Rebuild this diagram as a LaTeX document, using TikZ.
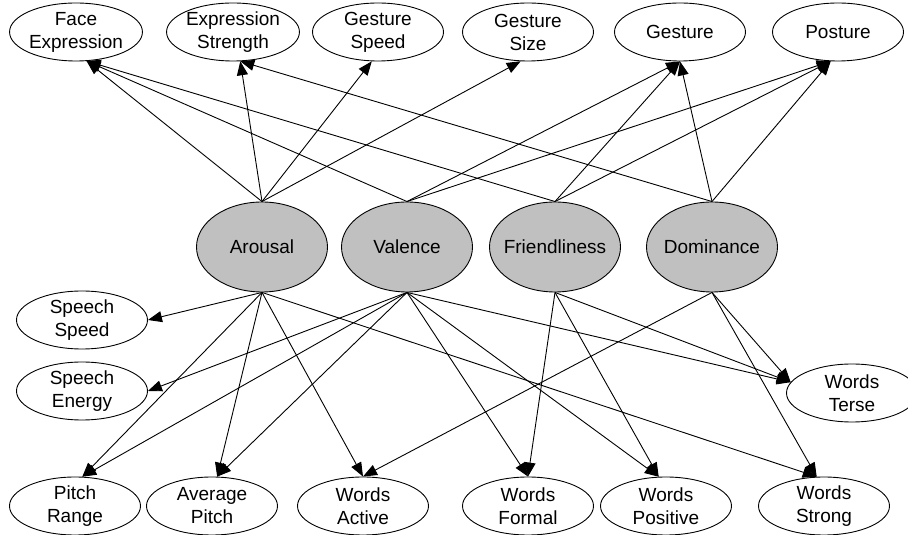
\documentclass[tikz,border=0pt]{standalone}
\usepackage{fontspec}
\setmainfont{Liberation Sans}
\usetikzlibrary{positioning, arrows.meta, shapes.geometric}
\definecolor{silver}{RGB}{192,192,192}
\tikzset{
every edge/.style={draw, ->}, % every edge is directed
>={Triangle[length=14pt, width=11pt]}, % solid arrow heads
x=1pt, y=1pt, % one unit is one pixel of the layout
node distance=150pt, % distance between the centres of two nodes in a row
every node/.style={font=\fontsize{19}{23}\selectfont, align=center},
cue/.style={ellipse, draw, inner sep=0pt, minimum width=131pt, minimum height=58pt}, % observed cues
mood/.style={cue, fill=silver, inner xsep=-6pt, minimum height=90pt}, % hidden states
}
\begin{document}
\begin{tikzpicture}[line width=0.9pt]
\useasboundingbox (0,0) rectangle (908,535);
            % top row
            \node[cue] (face) at (76,503) {Face\\Expression};
            \node[cue, node distance=157pt, right of=face] (strength) {Expression\\Strength};
            \node[cue, node distance=145pt, right of=strength] (gspeed) {Gesture\\Speed};
            \node[cue, right of=gspeed] (gsize) {Gesture\\Size};
            \node[cue, node distance=152pt, right of=gsize] (gesture) {Gesture};
            \node[cue, node distance=158pt, right of=gesture] (posture) {Posture};
            % middle row
            \node[mood] (aro) at (262,288) {Arousal};
            \node[mood, node distance=145pt, right of=aro] (val) {Valence};
            \node[mood, node distance=148pt, right of=val] (fri) {Friendliness};
            \node[mood, node distance=157pt, right of=fri] (dom) {Dominance};
            % sides
            \node[cue] (sspeed) at (82,215) {Speech\\Speed};
            \node[cue, node distance=71pt, below of=sspeed] (senergy) {Speech\\Energy};
            \node[cue] (terse) at (852,142) {Words\\Terse};
            % bottom row
            \node[cue] (prange) at (75,29) {Pitch\\Range};
            \node[cue, node distance=137pt, right of=prange] (apitch) {Average\\Pitch};
            \node[cue, node distance=151pt, right of=apitch] (wactive) {Words\\Active};
            \node[cue, node distance=165pt, right of=wactive] (wformal) {Words\\Formal};
            \node[cue, node distance=138pt, right of=wformal] (wpos) {Words\\Positive};
            \node[cue, node distance=158pt, right of=wpos] (wstrong) {Words\\Strong};
            \path
                (aro.north) edge (face.-70)
                (aro.north) edge (strength.-76)
                (aro.north) edge (gspeed.-102)
                (aro.north) edge (gsize.-104)
                (val.north) edge (face.-70)
                (val.north) edge (gesture.south)
                (val.north) edge (posture.-104)
                (fri.north) edge (face.-70)
                (fri.north) edge (gesture.south)
                (fri.north) edge (posture.-104)
                (dom.north) edge (strength.-76)
                (dom.north) edge (gesture.south)
                (dom.north) edge (posture.-104)
                (aro.south) edge (sspeed.east)
                (aro.south) edge (prange.76)
                (aro.south) edge (apitch.80)
                (aro.south) edge (wactive.north)
                (aro.south) edge (wstrong.104)
                (val.south) edge (senergy.east)
                (val.south) edge (prange.76)
                (val.south) edge (apitch.80)
                (val.south) edge (wformal.north)
                (val.south) edge (wpos.104)
                (val.south) edge (terse.170)
                (fri.south) edge (wformal.north)
                (fri.south) edge (wpos.104)
                (fri.south) edge (terse.170)
                (dom.south) edge (wactive.north)
                (dom.south) edge (terse.170)
                (dom.south) edge (wstrong.104);
\end{tikzpicture}
\end{document}
